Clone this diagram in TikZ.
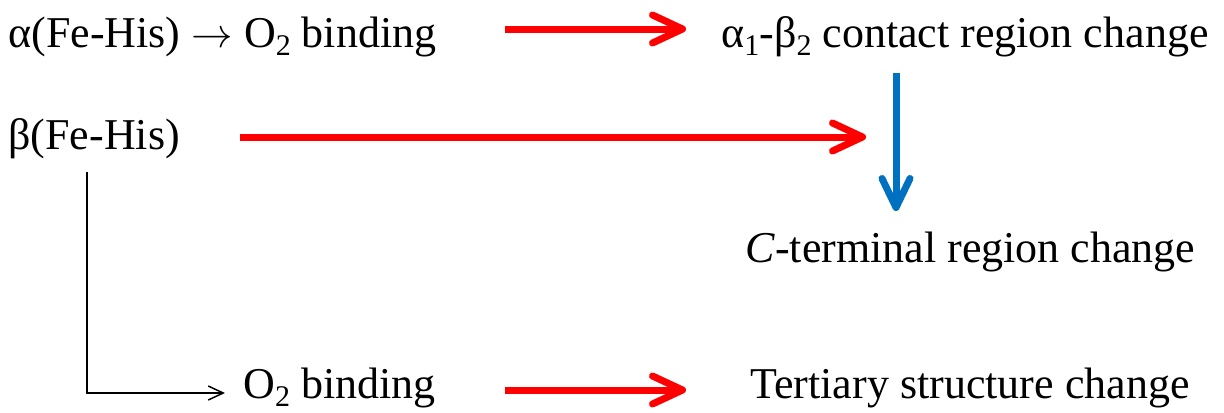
\documentclass[tikz,border=0pt]{standalone}
\usepackage{fontspec}
\setmainfont{Liberation Serif}
\usetikzlibrary{arrows.meta}
\definecolor{redarrow}{HTML}{FF0000}
\definecolor{bluearrow}{HTML}{0070C0}
\newcommand\mysub[1]{\raisebox{-0.2em}{\fontsize{15pt}{15pt}\selectfont #1}}
\begin{document}
\begin{tikzpicture}[x=0.5pt,y=-0.5pt,
  lbl/.style={anchor=base west,inner sep=0pt,font=\fontsize{22pt}{26pt}\selectfont},
  redarr/.style={draw=redarrow,line width=3.5pt,
    -{Straight Barb[length=15pt,width=14pt,line cap=round,line join=round]}},
  bluearr/.style={draw=bluearrow,line width=3.5pt,
    -{Straight Barb[length=14.5pt,width=14pt,line cap=round,line join=round]}},
  thinarr/.style={draw=black,line width=0.75pt,
    -{Straight Barb[length=7.5pt,width=7pt]}}]
\useasboundingbox (0,0) rectangle (1224,412);
\node[lbl] (a) at (8,47) {α(Fe-His) $\rightarrow$ O\mysub{2} binding};
\node[lbl] (ab) at (721,47) {α\mysub{1}-β\mysub{2} contact region change};
\node[lbl] (b) at (8,149) {β(Fe-His)};
\node[lbl] (ct) at (745,262) {\textit{C}-terminal region change};
\node[lbl] (o2) at (243,398) {O\mysub{2} binding};
\node[lbl] (ts) at (750,398) {Tertiary structure change};
% arrow coordinates
\coordinate (r1s) at (505,29);  \coordinate (r1e) at (686,29);
\coordinate (r2s) at (240,137); \coordinate (r2e) at (866,137);
\coordinate (r3s) at (505,390); \coordinate (r3e) at (686,390);
\coordinate (bls) at (896,73);  \coordinate (ble) at (896,211);
\coordinate (ks) at (87,172);   \coordinate (kc) at (87,393); \coordinate (ke) at (225,393);
\draw[redarr] (r1s) -- (r1e);
\draw[redarr] (r2s) -- (r2e);
\draw[redarr] (r3s) -- (r3e);
\draw[bluearr] (bls) -- (ble);
\draw[thinarr] (ks) -- (kc) -- (ke);
\end{tikzpicture}
\end{document}
